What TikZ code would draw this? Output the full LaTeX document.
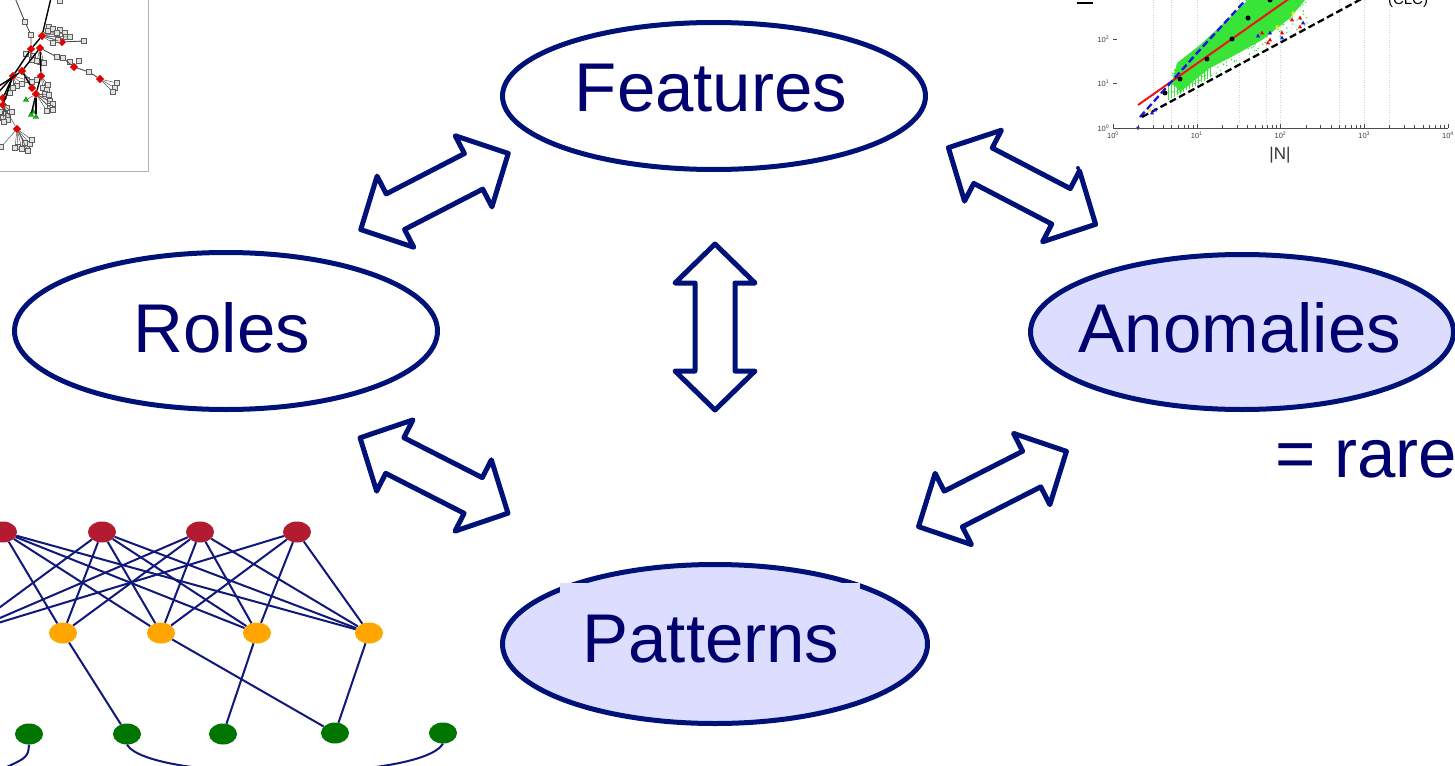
\documentclass[tikz,border=0pt]{standalone}
\usepackage{fontspec}
\setmainfont{Liberation Sans}
\usetikzlibrary{shapes.geometric}
\definecolor{navy}{RGB}{0,18,120}
\definecolor{navyink}{RGB}{0,0,110}
\definecolor{lavender}{RGB}{220,221,255}
\definecolor{netedge}{RGB}{16,24,122}
\definecolor{rolered}{RGB}{178,27,48}
\definecolor{roleorange}{RGB}{255,166,0}
\definecolor{rolegreen}{RGB}{0,118,0}
\definecolor{sqfill}{RGB}{226,226,226}
\definecolor{sqdraw}{RGB}{95,95,95}
\definecolor{dotgreen}{RGB}{55,228,55}
\definecolor{plotblue}{RGB}{20,20,235}
\definecolor{plotred}{RGB}{240,20,20}
\begin{document}
\begin{tikzpicture}[x=1pt,y=-1pt,
  oval/.style={ellipse, draw=navy, line width=5pt, fill=white, inner sep=0pt},
  ovalfill/.style={oval, fill=lavender},
  bigtext/.style={anchor=base, text=navyink, font=\fontsize{69}{80}\selectfont, inner sep=0pt},
  arrowline/.style={draw=navy, line width=5pt, fill=white, line join=round},
  dbl/.pic={\path[arrowline] (-83,0) -- (-44,-40) -- (-44,-20) -- (44,-20) -- (44,-40)
            -- (83,0) -- (44,40) -- (44,20) -- (-44,20) -- (-44,40) -- cycle;},
  sq/.style={rectangle, minimum size=4.6pt, inner sep=0pt, fill=sqfill, draw=sqdraw, line width=0.5pt},
  dia/.style={diamond, minimum size=8.5pt, inner sep=0pt, fill=red!90!black},
  tri/.style={regular polygon, regular polygon sides=3, minimum size=6pt, inner sep=0pt, fill=green!80!black, draw=green!40!black, line width=0.4pt},
  thinedge/.style={draw=black!70, line width=0.45pt},
  trunk/.style={draw=black, line width=1.4pt},
  rnode/.style={ellipse, minimum width=28pt, minimum height=21pt, inner sep=0pt, fill=rolered},
  onode/.style={ellipse, minimum width=28pt, minimum height=21pt, inner sep=0pt, fill=roleorange},
  gnode/.style={ellipse, minimum width=28pt, minimum height=21pt, inner sep=0pt, fill=rolegreen},
  netline/.style={draw=netedge, line width=2pt},
  ticklab/.style={font=\fontsize{7.5}{8}\selectfont, text=black!75, inner sep=0.5pt}
]
\useasboundingbox (0,0) rectangle (1455,765);
\clip (0,0) rectangle (1455,765);
\fill[white] (0,0) rectangle (1455,765);

% ---------- small tree graph, upper left ----------
\begin{scope}
  \clip (0,0) rectangle (148,171);
  \foreach \n/\x/\y in {d1/42/36, d2/31/49, d3/40/48, d4/62/42, d5/13/76, d6/22/71,
      d7/41/76, d8/32/88, d9/36/94, d10/3/98, d11/3/105, d12/17/129, d13/74/67, d14/100/79}
    \node[dia] (\n) at (\x,\y) {};
  \coordinate (topA) at (15,-2);
  \coordinate (topB) at (51,-2);
  \coordinate (leftA) at (-4,95);
  \coordinate (leftB) at (-4,88);
  \node[sq] (t1) at (25,22) {};
  \node[sq] (t2) at (31,35) {};
  \node[sq] (t3) at (60,1) {};
  \node[sq] (c1) at (57,57) {};
  \node[sq] (c2) at (63,58) {};
  \node[sq] (c3) at (70,62) {};
  \node[sq] (c4) at (79,61) {};
  \node[sq] (c5) at (89,72) {};
  \node[tri] (g1t) at (26,100) {};
  \node[tri] (g2t) at (31,115) {};
  \node[tri] (g3t) at (36,117) {};
  \node[tri] (g4t) at (33,112) {};
  \foreach \p/\x/\y [count=\i] in {
      d1/49/27, d1/53/29, d1/60/30, d1/65/33, d1/57/33, d1/48/31, d1/58/40, d1/66/37, d1/53/43, d1/70/37,
      d4/84/41, d2/26/54, d2/33/56, d3/40/62, d3/44/63, d3/37/61, d2/32/60,
      d14/117/83, d14/115/88, d14/113/92,
      d5/27/80, d6/32/82, d5/22/84, d7/37/80, d5/17/86, d7/43/88, d7/47/90, d7/48/85, d9/45/94, d9/49/95, d5/13/88,
      d10/10/93, d11/7/108, d11/2/112, d11/5/114, d11/8/116, d11/12/112, d11/3/118, d11/8/120, d11/4/122,
      d9/50/101, d9/53/104, d9/50/108, d9/47/111, d9/53/110,
      d12/18/147, d12/22/149, d12/27/147, d12/30/144, d12/32/140, d12/25/143, d12/15/148, d12/28/151, d12/1/147}
  {
    \node[sq] (s\i) at (\x,\y) {};
    \path[thinedge] (\p) -- (s\i);
  }
  % heavy links between the hubs
  \path[trunk] (leftA) -- (d5) -- (d2) -- (d1) -- (topB);
  \path[trunk] (leftB) -- (d6) -- (d3);
  \path[trunk] (d7) -- (d3);
  \path[trunk] (d8) -- (d6);
  \path[trunk] (d9) -- (d7);
  \path[trunk] (d9) -- (g2t);
  \path[trunk] (d9) -- (g3t);
  \path[trunk] (d10) -- (d5);
  \path[trunk] (d11) -- (d5);
  \path[thinedge, line width=0.9pt] (topA) -- (t1) -- (t2) -- (d2);
  \path[thinedge, line width=0.9pt] (d4) -- (s11);
  \path[thinedge, line width=0.9pt] (d3) -- (c1) -- (c2) -- (d13);
  \path[thinedge] (d13) -- (c3);
  \path[thinedge] (d13) -- (c4);
  \path[thinedge, line width=0.9pt] (d13) -- (c5) -- (d14);
  \path[thinedge] (d11) -- (d12);
  \path[thinedge] (d1) -- (d4);
  \path[thinedge] (d9) -- (g1t);
  \path[thinedge] (d9) -- (g4t);
\end{scope}
\draw[black!30, line width=1pt] (148,0) -- (148,171) -- (0,171);

% ---------- log-log scatter plot, upper right ----------
\begin{scope}
  \clip (1070,0) rectangle (1455,175);
  % grid
  \foreach \g in {3,5,10,32,68,100,500,1000,2000}
    \draw[black!18, dotted, line width=0.5pt] ({1113+83.75*log10(\g)},128) -- ({1113+83.75*log10(\g)},0);
  % dense band of points
  \fill[dotgreen] (1177,63) -- (1200,45) -- (1225,22) -- (1248,0) -- (1305,0) -- (1290,18)
      -- (1262,40) -- (1235,55) -- (1210,68) -- (1195,80) -- (1180,92) -- (1172,82) -- cycle;
  \foreach \sx in {1168,1171,...,1212}
    \draw[dotgreen, line width=0.7pt] (\sx,{105-0.705*(\sx-1138)-2}) -- (\sx,{117-0.537*(\sx-1142)-3});
  \pgfmathsetseed{42}
  \foreach \k in {1,...,260}{
    \pgfmathsetmacro\px{1172+rnd*135}
    \pgfmathsetmacro\yr{105-0.705*(\px-1138)}
    \pgfmathsetmacro\yb{117-0.537*(\px-1142)}
    \pgfmathsetmacro\py{\yr-10+rnd*(\yb-\yr+6)}
    \fill[dotgreen] (\px,\py) circle (0.8pt);
  }
  % fitted lines
  \draw[plotred, line width=2pt] (1138,105) -- (1300,-9);
  \draw[plotblue, line width=2.3pt, dash pattern=on 7pt off 3.5pt] (1140,117) -- (1197,53) -- (1252,-7);
  \draw[black, line width=2.3pt, dash pattern=on 7pt off 3.5pt] (1142,117) -- (1380,-11);
  % binned means
  \foreach \x/\y in {1165/93, 1180/79, 1207/59, 1232/39, 1248/18, 1270/0}
    \fill[black] (\x,\y) circle (2.5pt);
  % outlier markers
  \foreach \x/\y/\c in {1268/43/red, 1270/40/red, 1292/20/red, 1300/18/red, 1300/27/red, 1262/33/red, 1282/33/red,
      1258/36/plotblue, 1270/33/plotblue, 1282/38/plotblue, 1303/23/plotblue, 1152/113/plotblue, 1155/110/plotblue,
      1293/13/yellow!90!orange, 1277/27/yellow!90!orange, 1150/110/yellow!90!orange}
    \fill[\c] (\x,\y) ++(0,-2.4) -- ++(2.1,3.8) -- ++(-4.2,0) -- cycle;
  \fill[plotblue!70!black] (1138,128) circle (1.8pt);
  \fill[plotblue!70!black] (1078,168) circle (2pt);
  % axes
  \draw[black!70, line width=0.6pt] (1113,128) -- (1448,128);
  \foreach \k in {0,1,2,3}{
    \foreach \m in {2,...,9}
      \draw[black!70, line width=0.4pt] ({1113+83.75*(\k+log10(\m))},128) -- ++(0,-2.5);
  }
  \foreach \k in {0,1,2,3,4}{
    \draw[black!70, line width=0.5pt] ({1113+83.75*\k},128) -- ++(0,-4);
    \node[ticklab, anchor=north] (xl\k) at ({1113+83.75*\k},131) {10\textsuperscript{\k}};
  }
  \foreach \k in {0,1,2}{
    \draw[black!70, line width=0.5pt] (1113,{128-44.5*\k}) -- ++(4,0);
    \node[ticklab, anchor=east] (yl\k) at (1110,{128-44.5*\k}) {10\textsuperscript{\k}};
  }
  \node[font=\fontsize{17}{18}\selectfont, text=black!80, inner sep=0pt] (nlab) at (1280,155) {|N|};
  \node[font=\fontsize{15}{16}\selectfont, text=black, anchor=base, inner sep=0pt] (clc) at (1408,5) {(CLC)};
  \draw[black, line width=1.2pt] (1077,3) -- (1093,3);
\end{scope}

% ---------- layered role network, lower left ----------
\foreach \n/\x in {0/3, 1/102, 2/200, 3/297}
  \node[rnode] (r\n) at (\x,532) {};
\foreach \n/\x in {0/-35, 1/63, 2/161, 3/257, 4/369}
  \node[onode] (o\n) at (\x,633) {};
\foreach \n/\x/\y in {0/29/734, 1/127/734, 2/223/734, 3/335/733, 4/443/733}
  \node[gnode] (g\n) at (\x,\y) {};
\coordinate (gleft) at (-12,775);
\foreach \a/\b in {r0/o0, r0/o1, r0/o2, r0/o3, r0/o4,
                   r1/o0, r1/o1, r1/o2, r1/o3, r1/o4,
                   r2/o0, r2/o1, r2/o2, r2/o3, r2/o4,
                   r3/o0, r3/o2, r3/o3, r3/o4,
                   o1/g1, o2/g3, o3/g2, o4/g3}
  \path[netline] (\a) -- (\b);
\path[netline] (g1.south) .. controls (150,782) and (420,782) .. (g4.south);
\path[netline] (g0.south) .. controls (28,758) .. (gleft);

% ---------- main concept ovals ----------
\node[oval, minimum width=423pt, minimum height=147pt] (features) at (714,96) {};
\node[oval, minimum width=423pt, minimum height=157pt] (roles) at (226,331) {};
\node[ovalfill, minimum width=423pt, minimum height=155pt] (anomalies) at (1242,332) {};
\node[ovalfill, minimum width=425pt, minimum height=159pt] (patterns) at (715,644) {};
\fill[lavender] (560,583) rectangle (860,628);

% ---------- two-headed block arrows ----------
\path (434.5,191.5) pic[rotate=27.3] {dbl};
\path (1022,186) pic[rotate=-27.5] {dbl};
\path (715,327) pic[rotate=90] {dbl};
\path (434,475.5) pic[rotate=-27] {dbl};
\path (992.5,489) pic[rotate=27] {dbl};

% ---------- labels ----------
\node[bigtext] (featurestext) at (711,112) {Features};
\node[bigtext] (rolestext) at (222,352) {Roles};
\node[bigtext] (anomaliestext) at (1240,352) {Anomalies};
\node[bigtext] (patternstext) at (711,662) {Patterns};
\node[bigtext, anchor=base west] (raretext) at (1275,477) {= rare};
\end{tikzpicture}
\end{document}
